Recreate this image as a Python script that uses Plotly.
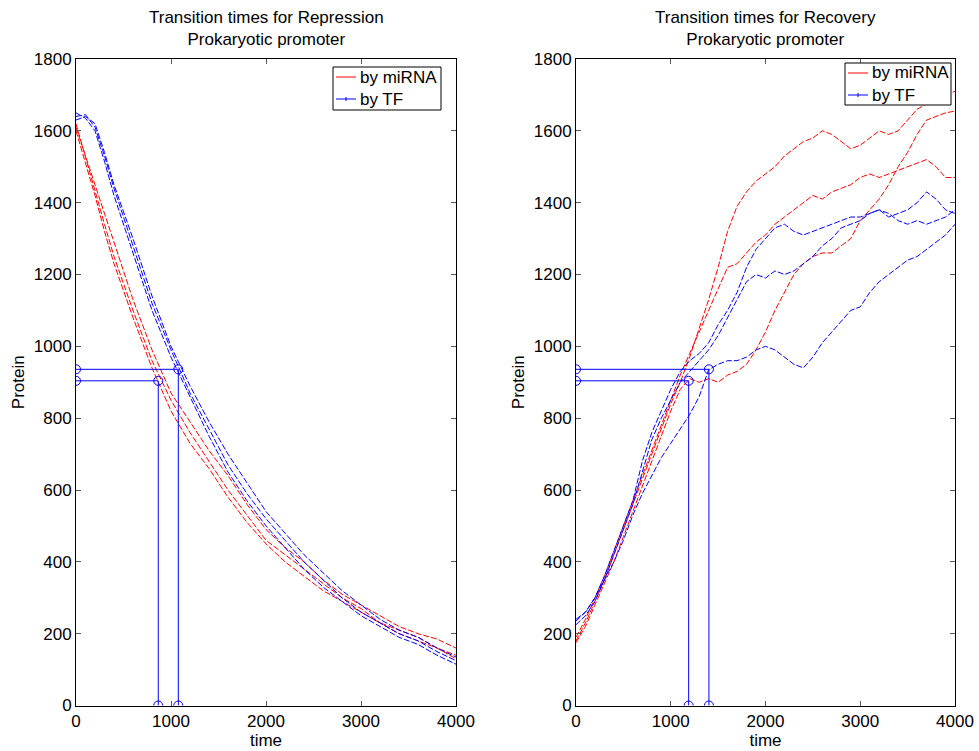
import plotly.graph_objects as go

# ---- data: repression (left panel) ----
t_rep = [0, 100, 200, 300, 400, 600, 800, 1000, 1200, 1400, 1600, 1800, 2000,
         2200, 2400, 2600, 2800, 3000, 3200, 3400, 3600, 3800, 4000]
rep_mirna = [
    [1620, 1525, 1430, 1340, 1250, 1100, 960, 850, 760, 680, 600, 530, 460,
     420, 380, 340, 300, 270, 230, 200, 180, 160, 130],
    [1610, 1530, 1450, 1370, 1290, 1130, 990, 870, 790, 710, 640, 560, 490,
     440, 400, 350, 310, 280, 250, 220, 200, 185, 160],
    [1600, 1510, 1420, 1320, 1230, 1080, 940, 820, 730, 660, 580, 510, 450,
     400, 360, 320, 290, 260, 230, 210, 190, 160, 140],
]
rep_tf = [
    [1640, 1645, 1610, 1530, 1440, 1280, 1120, 990, 870, 770, 670, 590, 520,
     460, 400, 350, 300, 260, 230, 200, 180, 150, 125],
    [1630, 1640, 1620, 1540, 1450, 1300, 1140, 1000, 890, 790, 700, 620, 540,
     480, 420, 370, 320, 280, 240, 210, 190, 160, 135],
    [1650, 1635, 1600, 1515, 1420, 1260, 1100, 970, 860, 750, 650, 570, 500,
     440, 380, 330, 290, 250, 220, 190, 170, 140, 115],
]

# ---- data: recovery (right panel) ----
t_rec = list(range(0, 4001, 100))
rec_mirna = [
    [180, 230, 290, 350, 420, 490, 560, 630, 700, 770, 840, 900, 970, 1050,
     1130, 1220, 1320, 1390, 1430, 1460, 1480, 1500, 1530, 1550, 1570, 1580,
     1600, 1590, 1570, 1550, 1560, 1580, 1600, 1590, 1600, 1630, 1660, 1675,
     1690, 1700, 1710],
    [190, 240, 300, 360, 430, 500, 570, 640, 710, 780, 850, 920, 980, 1040,
     1100, 1160, 1220, 1230, 1260, 1290, 1310, 1340, 1360, 1380, 1400, 1420,
     1410, 1430, 1440, 1450, 1470, 1480, 1470, 1480, 1490, 1500, 1510, 1520,
     1500, 1470, 1470],
    [175, 220, 280, 340, 400, 470, 540, 610, 680, 750, 820, 880, 910, 900,
     910, 900, 920, 930, 950, 990, 1040, 1100, 1150, 1200, 1230, 1250, 1260,
     1260, 1280, 1300, 1350, 1380, 1410, 1450, 1500, 1540, 1590, 1630, 1640,
     1650, 1655],
]
rec_tf = [
    [235, 260, 300, 360, 430, 500, 570, 680, 760, 820, 880, 930, 960, 980,
     1010, 1060, 1100, 1150, 1220, 1270, 1300, 1330, 1340, 1320, 1310, 1320,
     1330, 1340, 1350, 1360, 1360, 1370, 1380, 1360, 1370, 1380, 1400, 1430,
     1410, 1380, 1370],
    [225, 250, 290, 350, 420, 490, 560, 650, 740, 800, 850, 900, 930, 960,
     990, 1030, 1080, 1130, 1180, 1200, 1190, 1210, 1200, 1210, 1230, 1250,
     1280, 1300, 1330, 1340, 1350, 1370, 1380, 1370, 1350, 1340, 1350, 1340,
     1350, 1360, 1380],
    [240, 260, 300, 350, 400, 460, 530, 590, 640, 690, 730, 770, 810, 860,
     935, 950, 960, 960, 970, 990, 1000, 990, 970, 950, 940, 970, 1010, 1040,
     1070, 1100, 1110, 1150, 1180, 1200, 1220, 1240, 1250, 1270, 1290, 1310,
     1340],
]

# half-way levels and the times they are reached
level_mirna = 904
level_tf = 936
rep_times = {"mirna": 866, "tf": 1077}
rec_times = {"mirna": 1189, "tf": 1403}

legend_labels = ["by miRNA", "by TF"]

RED = "rgb(255,0,0)"
BLUE = "rgb(0,0,255)"
FONT = "Liberation Sans, Arial, sans-serif"
W, H = 979, 751

fig = go.Figure()


def add_panel(xa, ya, t, mirna, tf, times):
    for ys in mirna:
        fig.add_trace(go.Scatter(x=t, y=ys, mode="lines", xaxis=xa, yaxis=ya,
                                 line=dict(color=RED, width=1, dash="6px,2px"),
                                 showlegend=False, hoverinfo="skip"))
    for ys in tf:
        fig.add_trace(go.Scatter(x=t, y=ys, mode="lines", xaxis=xa, yaxis=ya,
                                 line=dict(color=BLUE, width=1, dash="6px,2px"),
                                 showlegend=False, hoverinfo="skip"))
    # threshold guides: horizontal to the crossing, then down to the axis
    for lvl, tx in ((level_mirna, times["mirna"]), (level_tf, times["tf"])):
        fig.add_trace(go.Scatter(x=[0, tx, tx], y=[lvl, lvl, 0],
                                 mode="lines+markers", xaxis=xa, yaxis=ya,
                                 line=dict(color=BLUE, width=1),
                                 marker=dict(symbol="circle-open", size=9,
                                             color=BLUE, line=dict(width=1)),
                                 showlegend=False, hoverinfo="skip"))


add_panel("x", "y", t_rep, rep_mirna, rep_tf, rep_times)
add_panel("x2", "y2", t_rec, rec_mirna, rec_tf, rec_times)


# boxed legends in pixel placement (paper coordinates)
def px(x):
    return x / W


def py(y):
    return 1 - y / H


shapes = []
annotations = []


def add_legend(left, top, right, bottom, row1, row2):
    shapes.append(dict(type="rect", xref="paper", yref="paper",
                       x0=px(left), x1=px(right), y0=py(bottom), y1=py(top),
                       line=dict(color="black", width=1), fillcolor="white",
                       layer="above"))
    for row, color, label in ((row1, RED, legend_labels[0]),
                              (row2, BLUE, legend_labels[1])):
        shapes.append(dict(type="line", xref="paper", yref="paper",
                           x0=px(left + 3), x1=px(left + 23),
                           y0=py(row), y1=py(row),
                           line=dict(color=color, width=1), layer="above"))
        annotations.append(dict(text=label, x=px(left + 25), y=py(row),
                                xref="paper", yref="paper", xanchor="left",
                                yanchor="middle", showarrow=False,
                                font=dict(family=FONT, size=17)))
    # small cross-tick on the TF sample
    shapes.append(dict(type="line", xref="paper", yref="paper",
                       x0=px(left + 13), x1=px(left + 13),
                       y0=py(row2 - 2), y1=py(row2 + 2),
                       line=dict(color=BLUE, width=1), layer="above"))


add_legend(333, 67, 441, 110, 77, 99)
add_legend(845, 63, 951, 105, 73, 95)

annotations += [
    dict(text="Transition times for Repression<br>Prokaryotic promoter",
         x=266 / W, y=1 - 6 / H, xref="paper", yref="paper",
         xanchor="center", yanchor="top", showarrow=False,
         font=dict(family=FONT, size=17)),
    dict(text="Transition times for Recovery<br>Prokaryotic promoter",
         x=765 / W, y=1 - 6 / H, xref="paper", yref="paper",
         xanchor="center", yanchor="top", showarrow=False,
         font=dict(family=FONT, size=17)),
]

ytop, ybot = 1 - 59 / H, 1 - 705.5 / H

axis_common = dict(showline=True, linecolor="black", linewidth=1, mirror="ticks",
                   ticks="inside", ticklen=5, tickcolor="rgb(90,90,90)",
                   showgrid=False, zeroline=False, automargin=False,
                   tickfont=dict(family=FONT, size=17, color="black"))

fig.update_layout(
    width=W, height=H,
    margin=dict(l=0, r=0, t=0, b=0),
    paper_bgcolor="white", plot_bgcolor="white",
    showlegend=False,
    font=dict(family=FONT, size=17, color="black"),
    xaxis=dict(domain=[76 / W, 456 / W], range=[0, 4000],
               tickvals=[0, 1000, 2000, 3000, 4000], anchor="y",
               title=dict(text="time", standoff=1,
                          font=dict(family=FONT, size=17)), **axis_common),
    yaxis=dict(domain=[ybot, ytop], range=[0, 1800], dtick=200, anchor="x",
               title=dict(text="Protein", standoff=4,
                          font=dict(family=FONT, size=17)), **axis_common),
    xaxis2=dict(domain=[576 / W, 955 / W], range=[0, 4000],
                tickvals=[0, 1000, 2000, 3000, 4000], anchor="y2",
                title=dict(text="time", standoff=1,
                           font=dict(family=FONT, size=17)), **axis_common),
    yaxis2=dict(domain=[ybot, ytop], range=[0, 1800], dtick=200, anchor="x2",
                title=dict(text="Protein", standoff=4,
                           font=dict(family=FONT, size=17)), **axis_common),
    shapes=shapes,
    annotations=annotations,
)

fig.write_html("out.html")
